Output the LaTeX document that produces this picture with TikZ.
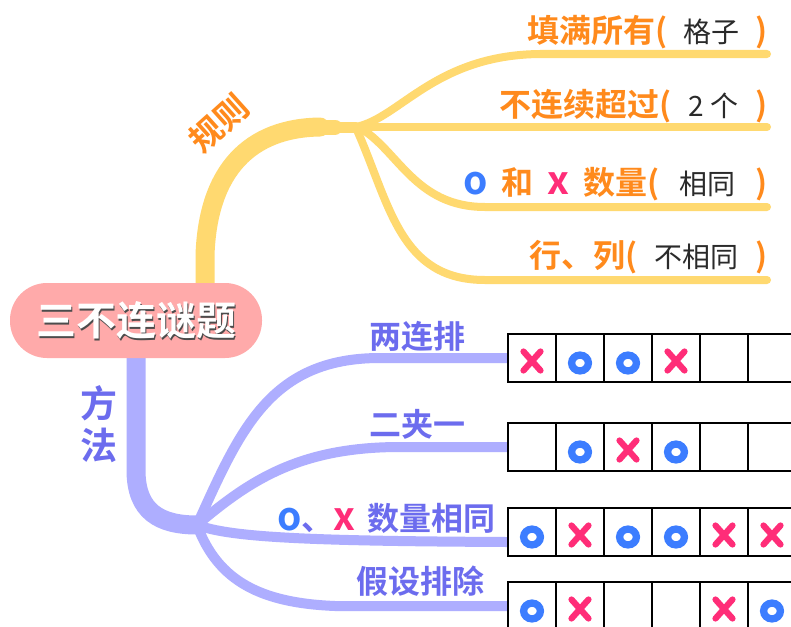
\documentclass[tikz,border=0pt]{standalone}
\usepackage{fontspec}
\usetikzlibrary{calc}
\newfontfamily\cjk{Noto Sans CJK SC}[BoldFont={Noto Sans CJK SC Bold}]
\newfontfamily\cjkl{Noto Sans CJK SC}
\definecolor{ybr}{HTML}{FFD970}
\definecolor{otext}{HTML}{FF8A1C}
\definecolor{bbr}{HTML}{AEAEFF}
\definecolor{btext}{HTML}{6C6CEE}
\definecolor{ocol}{HTML}{3C7DFF}
\definecolor{xcol}{HTML}{FF2D78}
\definecolor{rootpink}{HTML}{FFAAAA}
\definecolor{darktxt}{HTML}{2A2A2A}
\newcommand\dk{\cjkl\mdseries\fontsize{28}{28}\selectfont\color{darktxt}}
\newcommand\om{{\fontsize{39}{32}\selectfont\color{ocol}o}}
\newcommand\xm{{\fontsize{39}{32}\selectfont\color{xcol}x}}
\tikzset{
  ytrunk/.style={draw=ybr, line width=19pt, line cap=round},
  ybranch/.style={draw=ybr, line width=8pt, line cap=round},
  btrunk/.style={draw=bbr, line width=19pt, line cap=round},
  bbranch/.style={draw=bbr, line width=10pt, line cap=round},
  ylab/.style={anchor=east, inner sep=0pt, text=otext, font=\cjk\bfseries\fontsize{32}{34}\selectfont},
  blab/.style={inner sep=0pt, text=btext, font=\cjk\bfseries\fontsize{32}{34}\selectfont},
  cell/.style={draw=black, line width=2pt, minimum size=48pt, inner sep=0pt, fill=white},
  pics/omark/.style={code={\draw[ocol, line width=7.3pt] (0,0) ellipse (8.4 and 7.9);}},
  pics/xmark/.style={code={\draw[xcol, line width=6.2pt, line cap=round] (-8.5,-9.5) -- (8.5,9.5) (-8.5,9.5) -- (8.5,-9.5);}}
}
\begin{document}
\begin{tikzpicture}[x=1pt,y=-1pt]
\useasboundingbox (0,0) rectangle (791,626);
\fill[white] (0,0) rectangle (791,626);

% ---------- yellow (rules) branch ----------
\coordinate (yt) at (205,292);
\coordinate (yj) at (356,127);
\coordinate (e1) at (767,54);
\coordinate (e2) at (767,127);
\coordinate (e3) at (767,207);
\coordinate (e4) at (767,280);
\draw[ytrunk] (yt) -- (205,255) .. controls (208,170) and (250,128) .. (320,127);
\draw[draw=ybr, line width=15pt, line cap=round] (310,127) -- (335,127);
\draw[draw=ybr, line width=11pt, line cap=round] (330,127) -- (yj);
\draw[ybranch] (yj) .. controls (400,118) and (435,55) .. (540,54) -- (e1);
\draw[ybranch] (yj) -- (e2);
\draw[ybranch] (360,128) .. controls (398,150) and (415,207) .. (485,207) -- (e3);
\draw[ybranch] (357,130) .. controls (390,205) and (400,280) .. (485,280) -- (e4);

% ---------- blue (methods) branch ----------
\coordinate (bt) at (136,350);
\coordinate (bj) at (197,525);
\draw[btrunk] (bt) -- (136,470) .. controls (136,512) and (160,525) .. (bj);

% ---------- grid ----------
\foreach \r/\yy in {1/358,2/447,3/532,4/606}{
  \foreach \c in {1,...,6}{
    \node[cell] (r\r c\c) at ({484+48*\c},\yy) {};
  }
}
\draw[bbranch] (bj) .. controls (240,430) and (270,358) .. (380,358) -- (r1c1.west);
\draw[bbranch] (bj) .. controls (250,480) and (300,447) .. (400,447) -- (r2c1.west);
\draw[bbranch] (bj) .. controls (230,537) and (300,541) .. ($(r3c1.west)+(0,10)$);
\draw[bbranch] (bj) .. controls (218,582) and (262,603) .. (335,606) -- (r4c1.west);
\foreach \r in {1,...,4}{
  \foreach \c in {1,...,6}{
    \node[cell] at (r\r c\c) {};
  }
}
% row 1: x o o x
\pic at ($(r1c1)+(0,3)$) {xmark};
\pic at ($(r1c2)+(0,5)$) {omark};
\pic at ($(r1c3)+(0,5)$) {omark};
\pic at ($(r1c4)+(0,3)$) {xmark};
% row 2: _ o x o
\pic at ($(r2c2)+(0,5)$) {omark};
\pic at ($(r2c3)+(0,3)$) {xmark};
\pic at ($(r2c4)+(0,5)$) {omark};
% row 3: o x o o x x
\pic at ($(r3c1)+(0,5)$) {omark};
\pic at ($(r3c2)+(0,3)$) {xmark};
\pic at ($(r3c3)+(0,5)$) {omark};
\pic at ($(r3c4)+(0,5)$) {omark};
\pic at ($(r3c5)+(0,3)$) {xmark};
\pic at ($(r3c6)+(0,3)$) {xmark};
% row 4: o x _ _ x o
\pic at ($(r4c1)+(0,5)$) {omark};
\pic at ($(r4c2)+(0,3)$) {xmark};
\pic at ($(r4c5)+(0,3)$) {xmark};
\pic at ($(r4c6)+(0,5)$) {omark};

% ---------- root ----------
\node[fill=rootpink, rounded corners=37pt, minimum width=252pt, minimum height=75pt, inner sep=0pt] (root) at (136,320.5) {};
\node[inner sep=0pt, text=black!70, font=\cjk\bfseries\fontsize{40}{40}\selectfont] (rootshadow) at ($(root)+(1.8,2)$) {三不连谜题};
\node[inner sep=0pt, text=white, font=\cjk\bfseries\fontsize{40}{40}\selectfont] (roottext) at (root) {三不连谜题};

% ---------- rule labels ----------
\node[inner sep=0pt, text=otext, rotate=42, font=\cjk\bfseries\fontsize{33}{33}\selectfont] (rules) at (219,123) {规则};
\node[ylab] (t1) at (768,32) {填满所有(\makebox[88pt]{\dk 格子})};
\node[ylab] (t2) at (768,106) {不连续超过(\makebox[84pt]{\dk 2 个})};
\node[ylab] (t3) at (768,184) {\om\hspace{14pt}和\hspace{14pt}\xm\hspace{14pt}数量(\makebox[96pt]{\dk 相同})};
\node[ylab] (t4) at (768,257) {行、列(\makebox[118pt]{\dk 不相同})};

% ---------- method labels ----------
\node[blab, align=center, font=\cjk\bfseries\fontsize{37}{42}\selectfont] (methods) at (99,424) {方\\法};
\node[blab] (m1) at (417,336) {两连排};
\node[blab] (m2) at (417,424) {二夹一};
\node[blab, anchor=east] (m3) at (496,518) {\om、\xm\hspace{12pt}数量相同};
\node[blab] (m4) at (420,581) {假设排除};
\end{tikzpicture}
\end{document}
